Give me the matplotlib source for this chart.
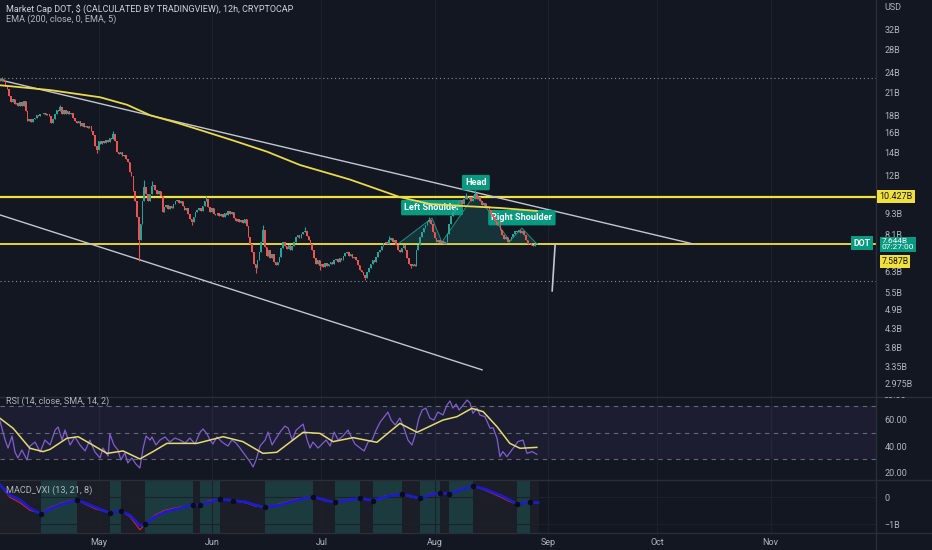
import numpy as np
import matplotlib
matplotlib.use("Agg")
import matplotlib.pyplot as plt
from matplotlib.transforms import Bbox, blended_transform_factory
from matplotlib.lines import Line2D

# ---------------- data (days counted from 2022-04-04 00:00) ----------------
first_open = 22.9
closes = [
    22.67, 23.0, 22.67, 21.9, 21.5, 20.5, 19.7, 20.1, 19.4, 19.5,
    19.1, 19.7, 19.2, 19.8, 18.5, 17.3, 17.5, 17.2, 17.6, 17.7,
    18.0, 17.9, 18.2, 18.1, 18.3, 18.0, 18.2, 17.9, 17.1, 17.5,
    18.2, 18.7, 18.5, 19.0, 18.2, 18.7, 18.2, 18.5, 18.1, 18.3,
    17.7, 17.3, 17.1, 17.3, 16.8, 17.1, 16.6, 16.8, 16.5, 16.7,
    16.2, 15.8, 14.6, 14.3, 15.1, 14.8, 15.1, 14.9, 15.2, 15.0,
    15.5, 15.3, 15.9, 15.1, 14.1, 13.9, 14.1, 13.7, 13.8, 13.4, 13.2,
    12.3, 12.0, 10.8, 10.1, 9.10, 7.79, 8.68, 10.1, 11.1, 10.6,
    10.1, 10.6, 11.2, 11.3, 10.9, 10.6, 10.8, 10.5, 9.42, 9.74,
    9.87, 9.61, 9.80, 9.68, 9.93, 10.1, 10.2, 10.0, 10.1, 9.80,
    9.55, 9.68, 9.29, 8.98, 8.80, 9.10, 9.42, 9.55, 9.68, 9.48,
    9.80, 10.1, 10.3, 9.74, 9.42, 9.68, 9.29, 9.23, 9.36, 9.17,
    9.29, 9.10, 9.36, 9.23, 9.48, 9.29, 9.42, 9.04, 8.86, 8.98,
    8.80, 8.92, 8.74, 8.98, 8.57, 7.96, 7.59, 7.19, 6.63, 6.46,
    6.81, 7.19, 7.69, 8.34, 7.44, 7.00, 7.29, 6.90, 7.10, 6.72,
    6.59, 6.75, 6.95, 7.39, 7.69, 7.49, 7.34, 7.54, 7.29, 7.49, 7.69,
    7.96, 8.07, 7.91, 8.12, 8.23, 8.29, 8.01, 7.80, 7.59, 7.29,
    6.90, 6.63, 6.81, 6.54, 6.63, 6.50, 6.68, 6.54, 6.63, 6.72,
    6.63, 6.81, 6.86, 6.72, 6.90, 6.81, 7.00, 7.14, 7.19, 7.00,
    7.10, 6.90, 6.95, 6.81, 6.59, 6.37, 6.28, 6.16, 6.03, 6.28,
    6.46, 6.63, 6.81, 6.72, 6.95, 7.19, 7.29, 7.49, 7.64, 7.69,
    7.59, 7.80, 7.91, 7.69, 7.80, 7.54, 7.29, 7.19, 7.39, 7.54,
    7.29, 6.90, 6.63, 6.54, 6.63, 6.54, 7.29, 7.54, 7.96, 8.23,
    8.45, 8.62, 8.80, 8.92, 8.68, 8.23, 7.91, 7.69, 7.80, 7.64,
    7.75, 7.62, 7.69, 8.12, 8.68, 9.17, 9.42, 9.68, 9.87, 10.1, 10.2,
    9.93, 10.3, 10.5, 10.3, 10.4, 10.1, 10.3, 10.6, 10.3, 10.4,
    10.1, 9.87, 10.0, 9.74, 9.80, 9.55, 9.29, 9.10, 8.86, 8.62,
    8.80, 8.34, 8.07, 7.85, 7.96, 7.69, 7.80, 7.96, 8.12, 8.29,
    8.23, 8.34, 8.18, 8.29, 8.07, 7.80, 7.59, 7.64, 7.54, 7.49,
    7.59, 7.644]
wick_high = {1: 23.3, 33: 19.3, 62: 16.2, 79: 11.7, 83: 11.6, 113: 10.5, 144: 8.6,
             167: 8.5, 213: 8.0, 235: 9.1, 255: 10.7, 260: 10.9}
wick_low = {53: 14.0, 76: 6.8, 105: 8.65, 140: 6.25, 175: 6.40, 200: 5.98, 225: 6.45}

ema_days = [0, 13.7, 27.4, 34.8, 41.1, 48.5, 54.8, 63.8, 73.1, 82.1, 95.8, 109.5,
            117.7, 126.0, 136.9, 147.0]
ema_vals = [22.0, 21.3, 20.3, 19.3, 18.0, 17.1, 16.3, 15.2, 14.1, 12.9, 11.7, 10.4,
            9.93, 9.81, 9.67, 9.48]

res_level = 10.427
sup_level = 7.587
last_price = 7.644
dotted_levels = [23.1, 5.92]
upper_trend_days, upper_trend_vals = [0, 189.8], [22.8, 7.6]
lower_trend_days, lower_trend_vals = [0, 132.0], [9.23, 3.27]
proj_days, proj_vals = [152.0, 151.2], [7.55, 5.55]

hs_days = [109.0, 118.3, 121.0, 130.3, 139.6, 142.9, 147.0]
hs_vals = [7.6, 9.04, 7.7, 10.69, 7.75, 8.45, 7.6]
hs_labels = {1: "Left Shoulder", 3: "Head", 5: "Right Shoulder"}

price_ticks = [32, 28, 24, 21, 18, 16, 14, 12, 9.3, 8.1, 6.3, 5.5, 4.9, 4.3, 3.8, 3.35, 2.975]
price_tick_labels = ["32B", "28B", "24B", "21B", "18B", "16B", "14B", "12B", "9.3B", "8.1B",
                     "6.3B", "5.5B", "4.9B", "4.3B", "3.8B", "3.35B", "2.975B"]

rsi_days = [0, 1.4, 2.2, 3.3, 4.1, 4.9, 6.0, 7.4, 8.2, 9.6,
            11.0, 12.3, 13.7, 15.1, 15.9, 17.0, 17.8, 19.2, 20.5, 21.9,
            23.3, 24.6, 26.0, 27.4, 28.2, 29.6, 30.1, 31.2, 32.3, 33.1,
            34.2, 35.0, 36.1, 37.2, 38.3, 39.2, 40.0, 41.1, 41.6, 42.7,
            43.8, 45.2, 46.5, 47.9, 49.3, 50.7, 52.0, 53.4, 54.8, 55.6,
            56.7, 57.5, 58.3, 59.4, 60.8, 62.4, 63.5, 64.6, 65.7, 67.1,
            68.5, 69.3, 70.1, 71.2, 72.6, 73.4, 74.5, 75.3, 76.7, 78.0,
            78.9, 80.0, 81.1, 82.1, 83.0, 84.1, 84.9, 85.7, 87.1, 88.2,
            89.3, 90.4, 91.5, 92.6, 93.9, 95.3, 95.8, 97.2, 98.6, 99.7,
            100.8, 101.9, 103.0, 104.1, 105.4, 106.2, 107.1, 108.2, 109.5, 110.6,
            111.7, 112.8, 113.6, 114.7, 115.6, 116.6, 117.7, 118.8, 119.9, 121.3,
            122.4, 123.2, 124.0, 124.9, 125.7, 126.8, 127.9, 128.7, 129.5, 130.6,
            131.4, 132.8, 134.2, 135.0, 136.1, 136.9, 137.7, 138.8, 140.5, 141.8,
            143.2, 144.3, 145.7, 147.0]
rsi_vals = [58.8, 44.5, 38.5, 47.5, 35.5, 31, 37, 29.5, 40, 43,
            35.5, 44.5, 40.8, 52, 54.3, 44.5, 52, 40.8, 46.8, 40.8,
            36.3, 44.5, 35.5, 31, 38.5, 32.5, 49, 40.8, 37, 29.5,
            34.8, 27.3, 31, 26.5, 23.5, 38.5, 47.5, 44.5, 46.8, 40.8,
            44.5, 46.8, 43, 46, 44.5, 42.3, 46, 41.5, 50.5, 52.8,
            49, 44.5, 41.5, 46.8, 43, 40, 44.5, 42.3, 38.5, 33.3,
            28, 24.3, 29.5, 40, 44.5, 50.5, 40.8, 44.5, 50.5, 55,
            53.5, 44.5, 52, 54.3, 56.5, 44.5, 38.5, 43, 38.5, 41.5,
            44.5, 40, 50.5, 44.5, 47.5, 52, 49, 41.5, 38.5, 36.3,
            43, 44.5, 52, 58, 62.5, 65.5, 59.5, 55.8, 61, 53.5,
            44.5, 40.8, 47.5, 61, 67, 68.5, 61, 59.5, 65.5, 63.3,
            70.8, 73.8, 68.5, 71.5, 67, 70.8, 74.5, 72.3, 64.5, 68.5,
            63.3, 62, 53.3, 53.8, 45.8, 32, 35.8, 32, 38.3, 43.3,
            44.5, 34.5, 35.8, 33.8]
rsi_ma_days = [0, 3.6, 8.2, 11.8, 13.7, 18.3, 21.4, 24.6, 29.3, 33.7, 38.3, 41.9, 45.7,
               53.9, 61.1, 66.5, 72.0, 75.8, 83.0, 87.6, 91.2, 96.7, 103.2, 109.5, 114.2,
               121.3, 125.1, 129.2, 132.3, 136.1, 139.6, 142.4, 147.0]
rsi_ma_vals = [60.8, 53.3, 38.3, 35.8, 37.5, 45.8, 47, 42, 34.5, 36.3, 30.3, 35.8, 42,
               42, 47, 43.3, 34.5, 35.3, 50.3, 49.5, 43.3, 46.3, 42.8, 57, 50.3,
               59.5, 62, 68.3, 65.8, 54.5, 42, 38.3, 39]

macd_days = [0, 2.7, 5.5, 8.2, 11.2, 13.7, 16.4, 19.2, 21.1, 23.3,
             26.0, 30.1, 33.1, 35.6, 38.3, 39.7, 42.4, 45.2, 49.3, 52.8,
             54.8, 57.5, 60.2, 63.8, 67.1, 69.8, 72.6, 76.7, 80.8, 85.7,
             89.0, 91.7, 95.3, 98.6, 102.1, 105.4, 110.1, 112.3, 115.0, 117.7,
             120.5, 122.9, 126.0, 129.5, 132.8, 136.9, 139.6, 141.6, 143.8, 145.1,
             147.3]
macd_line = [0.46, 0.08, -0.1, -0.4, -0.62, -0.43, -0.28, -0.17, -0.1, -0.21,
             -0.36, -0.58, -0.5, -0.66, -1.05, -1.0, -0.72, -0.54, -0.4, -0.28,
             -0.28, -0.17, -0.07, -0.12, -0.17, -0.28, -0.37, -0.28, -0.12, 0.02,
             -0.1, -0.19, -0.1, -0.04, -0.12, 0.02, 0.12, 0.05, -0.04, 0.08,
             0.17, 0.12, 0.27, 0.42, 0.3, 0.08, -0.1, -0.25, -0.2, -0.19,
             -0.2]
macd_signal = [0.45, 0.0, -0.2, -0.48, -0.6, -0.38, -0.24, -0.13, -0.1, -0.25,
               -0.42, -0.58, -0.5, -0.72, -1.2, -1.0, -0.66, -0.48, -0.36, -0.28,
               -0.28, -0.12, -0.07, -0.12, -0.2, -0.32, -0.37, -0.24, -0.08, 0.02,
               -0.13, -0.19, -0.07, -0.04, -0.12, 0.05, 0.12, 0.02, -0.04, 0.11,
               0.17, 0.12, 0.3, 0.42, 0.26, 0.02, -0.16, -0.25, -0.18, -0.19,
               -0.2]
band_edges = [0, 11.2, 21.1, 30.1, 33.1, 39.7, 52.8, 54.8, 60.2, 72.6, 85.7, 91.7, 98.6,
              102.1, 110.1, 115.0, 120.5, 122.9, 129.5, 141.6, 145.1, 147.5]
cross_days = [11.2, 21.1, 30.1, 33.1, 39.7, 52.8, 54.8, 60.2, 63.8, 72.6, 85.7, 91.7,
              98.6, 102.1, 110.1, 115.0, 120.5, 122.9, 129.5, 141.6, 145.1]

month_days = [27, 58, 88, 119, 150, 180, 211]
month_names = ["May", "Jun", "Jul", "Aug", "Sep", "Oct", "Nov"]

# ---------------- style ----------------
BG = "#131722"
GRID = "#1c202b"
SEP = "#2a2e39"
TXT = "#b2b5be"
GREEN = "#26a69a"
RED = "#ef5350"
YEL = "#f2e13c"
TEAL_LBL = "#089981"
plt.rcParams['font.family'] = ['Roboto', 'DejaVu Sans']

W, H = 932, 550
fig = plt.figure(figsize=(W / 100, H / 100), dpi=100, facecolor=BG)


def fx(px):
    return px / W


def fy(py):
    return 1 - py / H


XR = 876
XMAX = XR / 3.652
ax = fig.add_axes([0, fy(397), fx(XR), 397 / H])
ax_r = fig.add_axes([0, fy(480), fx(XR), 83 / H])
ax_m = fig.add_axes([0, fy(533), fx(XR), 53 / H])

for a in (ax, ax_r, ax_m):
    a.set_facecolor(BG)
    for s in a.spines.values():
        s.set_visible(False)
    a.set_xlim(0, XMAX)
    a.set_xticks(month_days)
    a.tick_params(axis='both', length=0, colors=TXT, labelsize=6.5)
    a.grid(axis='x', color=GRID, lw=0.8)
    a.set_axisbelow(True)
    a.yaxis.tick_right()
ax.set_xticklabels([])
ax_r.set_xticklabels([])
ax_m.set_xticklabels(month_names)
ax_m.tick_params(axis='x', pad=3.5)

# ---------------- main price pane ----------------
ax.set_yscale('log')
ax.set_ylim(2.726, 38.94)
ax.yaxis.set_minor_locator(matplotlib.ticker.NullLocator())
ax.set_yticks(price_ticks)
ax.set_yticklabels(price_tick_labels)
ax.tick_params(axis='y', pad=6, labelsize=6.5)
for lab in ax.get_yticklabels():
    lab.set_horizontalalignment('left')

c = np.array(closes)
o = np.r_[first_open, c[:-1]]
d = np.arange(len(c)) * 0.5
lo = np.minimum(o, c)
hi = np.maximum(o, c)
col = np.where(c >= o, GREEN, RED)
ax.bar(d, hi - lo, bottom=lo, width=0.42, color=col, linewidth=0, zorder=4)
ax.vlines(d, lo, hi, colors=col, lw=0.7, zorder=4)
for k, v in wick_high.items():
    ax.vlines(d[k], hi[k], max(v, hi[k]), colors=col[k], lw=0.8, zorder=4)
for k, v in wick_low.items():
    ax.vlines(d[k], min(v, lo[k]), lo[k], colors=col[k], lw=0.8, zorder=4)

ax.axhline(res_level, color=YEL, lw=1.6, zorder=2)
ax.axhline(sup_level, color=YEL, lw=1.3, zorder=2)
for lv in dotted_levels:
    ax.axhline(lv, color="#8a8d96", lw=0.8, ls=(0, (1, 2.5)), zorder=2)
ax.plot(upper_trend_days, upper_trend_vals, color="#c3c6ce", lw=1.0, zorder=3)
ax.plot(lower_trend_days, lower_trend_vals, color="#c3c6ce", lw=1.0, zorder=3)
ax.plot(proj_days, proj_vals, color="#c3c6ce", lw=1.2, zorder=3)
ax.plot(ema_days, ema_vals, color="#e9d94b", lw=1.3, zorder=5)

# head & shoulders drawing
ax.fill(hs_days, hs_vals, color=GREEN, alpha=0.2, lw=0, zorder=2)
ax.plot(hs_days, hs_vals, color=GREEN, lw=0.7, alpha=0.8, zorder=2)
for k, s in hs_labels.items():
    ax.annotate(s, (hs_days[k], hs_vals[k]), xytext=(0, 7.5), textcoords='offset points',
                ha='center', va='center', color='white', fontsize=6.6, fontweight='bold',
                bbox=dict(boxstyle='round,pad=0.35,rounding_size=0.15', fc=TEAL_LBL, ec='none'),
                zorder=3)

# axis price labels
tr = blended_transform_factory(fig.transFigure, ax.transData)
fig.text(fx(879), res_level, "10.427B", transform=tr, va='center', ha='left', color=BG,
         fontsize=6.5, bbox=dict(boxstyle='square,pad=0.25', fc=YEL, ec='none'), zorder=10)
ax.annotate("7.587B", (1, sup_level), xycoords=('axes fraction', 'data'),
            xytext=(4, -12.5), textcoords='offset points', va='center', ha='left', color=BG,
            fontsize=6.2, annotation_clip=False,
            bbox=dict(boxstyle='square,pad=0.2', fc=YEL, ec='none'), zorder=10)
ax.annotate("7.644B\n07:27:00", (1, last_price), xycoords=('axes fraction', 'data'),
            xytext=(4, 3.5), textcoords='offset points', va='top', ha='left', color='white',
            fontsize=6.0, linespacing=0.95, annotation_clip=False,
            bbox=dict(boxstyle='square,pad=0.2', fc=TEAL_LBL, ec='none'), zorder=11)
ax.annotate("DOT", (1, last_price), xycoords=('axes fraction', 'data'),
            xytext=(-10, 0), textcoords='offset points', va='center', ha='center', color='white',
            fontsize=6.3, fontweight='bold', annotation_clip=False,
            bbox=dict(boxstyle='square,pad=0.3', fc=TEAL_LBL, ec='none'), zorder=10)
fig.text(fx(884), fy(8), "USD", color=TXT, fontsize=6.5, va='center', ha='left')

# ---------------- RSI pane ----------------
ax_r.set_ylim(14.5, 76.8)
ax_r.set_yticks([60, 40, 20])
ax_r.set_yticklabels(["60.00", "40.00", "20.00"])
ax_r.tick_params(axis='y', pad=6)
for lab in ax_r.get_yticklabels():
    lab.set_horizontalalignment('left')
ax_r.axhspan(30, 70, color="#7e57c2", alpha=0.10, lw=0)
for lv in (70, 50, 30):
    ax_r.axhline(lv, color="#787b86", lw=0.8, ls=(0, (4, 4)), alpha=0.8)
ax_r.plot(rsi_days, rsi_vals, color="#7e5fd0", lw=0.9, zorder=3)
ax_r.plot(rsi_ma_days, rsi_ma_vals, color="#e3dc6e", lw=1.1, zorder=4)
t80 = fig.text(fx(884), fy(395), "80.00", color=TXT, fontsize=6.5, va='center', ha='left')
t80.set_clip_box(Bbox([[876, H - 480], [W, H - 397]]))
t80.set_clip_on(True)

# ---------------- MACD pane ----------------
ax_m.set_ylim(-1.32, 0.64)
ax_m.set_yticks([0, -1])
ax_m.set_yticklabels(["0", "\u22121B"])
ax_m.tick_params(axis='y', pad=6)
for lab in ax_m.get_yticklabels():
    lab.set_horizontalalignment('left')
ax_m.grid(axis='y', color=GRID, lw=0.8)
for i in range(len(band_edges) - 1):
    ax_m.axvspan(band_edges[i], band_edges[i + 1], color="#1c3b3e" if i % 2 else "#1b1d27",
                 lw=0, zorder=0.5)
ax_m.plot(macd_days, macd_signal, color="#e0241f", lw=0.8, zorder=3)
ax_m.plot(macd_days, macd_line, color="#1c1ccf", lw=2.0, zorder=4)
ax_m.scatter(cross_days, np.interp(cross_days, macd_days, macd_line), s=16,
             color="#0a0c18", zorder=5, lw=0)

# ---------------- separators ----------------
for yy in (397, 480, 533):
    fig.add_artist(Line2D([0, 1], [fy(yy), fy(yy)], color=SEP, lw=1))
fig.add_artist(Line2D([fx(XR), fx(XR)], [0, 1], color=SEP, lw=1))

# ---------------- titles (fitted to reference widths) ----------------
renderer = fig.canvas.get_renderer()


def fit_text(x_px, y_px, s, width_px, color):
    t = fig.text(fx(x_px), fy(y_px), s, color=color, fontsize=7, va='center', ha='left')
    w = t.get_window_extent(renderer).width
    t.set_fontsize(7 * width_px / w)
    return t


fit_text(6, 9.5, "Market Cap DOT, $ (CALCULATED BY TRADINGVIEW), 12h, CRYPTOCAP", 289, "#d1d4dc")
fit_text(6, 19.5, "EMA (200, close, 0, EMA, 5)", 111, "#b2b5be")
fit_text(6, 401, "RSI (14, close, SMA, 14, 2)", 104, "#b2b5be")
fit_text(6, 490, "MACD_VXI (13, 21, 8)", 87, "#b2b5be")

fig.savefig("out.png", dpi=100, facecolor=BG)
